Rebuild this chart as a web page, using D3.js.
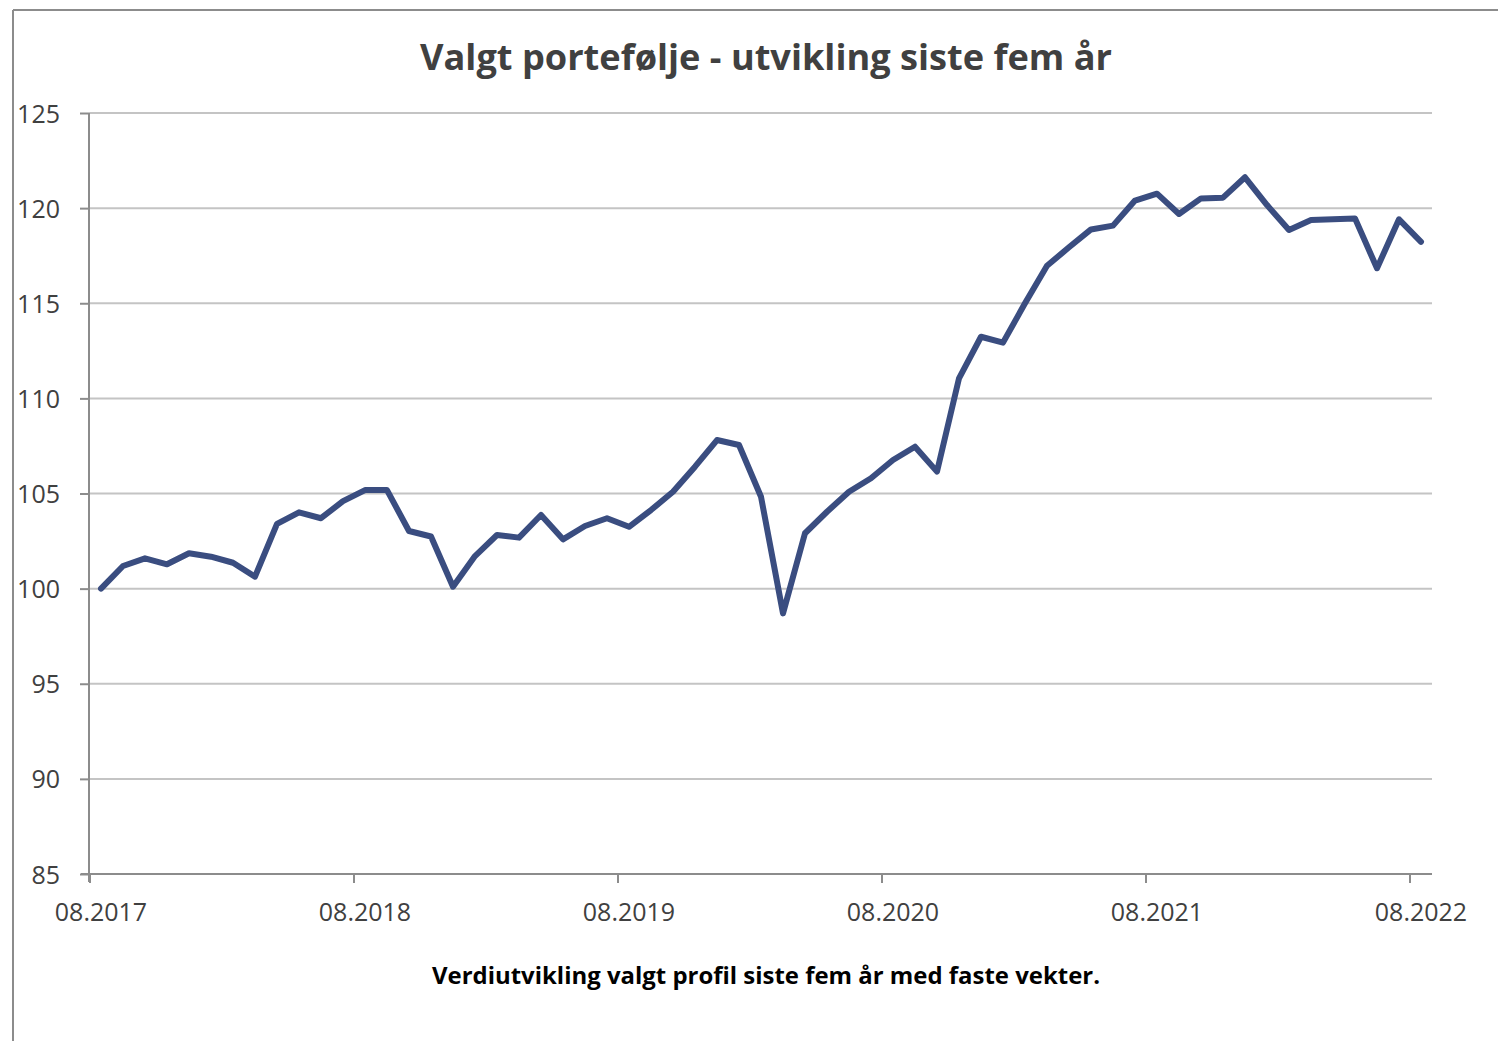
<!DOCTYPE html>
<html>
<head>
<meta charset="utf-8">
<script src="https://cdn.jsdelivr.net/npm/d3@7"></script>
<style>
  html, body { margin: 0; padding: 0; background: #fff; }
  svg { display: block; }
</style>
</head>
<body>
<svg id="chart" width="1498" height="1041"></svg>
<script>
const titleText = "Valgt portefølje - utvikling siste fem år";
const captionText = "Verdiutvikling valgt profil siste fem år med faste vekter.";

const months = [
  "08.2017","09.2017","10.2017","11.2017","12.2017","01.2018","02.2018","03.2018","04.2018","05.2018","06.2018","07.2018",
  "08.2018","09.2018","10.2018","11.2018","12.2018","01.2019","02.2019","03.2019","04.2019","05.2019","06.2019","07.2019",
  "08.2019","09.2019","10.2019","11.2019","12.2019","01.2020","02.2020","03.2020","04.2020","05.2020","06.2020","07.2020",
  "08.2020","09.2020","10.2020","11.2020","12.2020","01.2021","02.2021","03.2021","04.2021","05.2021","06.2021","07.2021",
  "08.2021","09.2021","10.2021","11.2021","12.2021","01.2022","02.2022","03.2022","04.2022","05.2022","06.2022","07.2022",
  "08.2022"
];

const values = [
  100.00, 101.19, 101.59, 101.28, 101.86, 101.68, 101.36, 100.63, 103.40, 104.01, 103.70, 104.60,
  105.18, 105.18, 103.03, 102.74, 100.10, 101.71, 102.82, 102.68, 103.87, 102.59, 103.29, 103.70,
  103.25, 104.13, 105.09, 106.41, 107.81, 107.55, 104.83, 98.70, 102.91, 104.04, 105.09, 105.80,
  106.76, 107.46, 106.15, 111.05, 113.24, 112.93, 115.00, 116.97, 117.94, 118.88, 119.08, 120.40,
  120.76, 119.69, 120.51, 120.55, 121.62, 120.16, 118.85, 119.37, 119.41, 119.46, 116.84, 119.41,
  118.23
];

const xTickLabels = ["08.2017","08.2018","08.2019","08.2020","08.2021","08.2022"];
const yTicks = [85, 90, 95, 100, 105, 110, 115, 120, 125];

const svg = d3.select("#chart");
const plot = { left: 90, right: 1432, top: 113, bottom: 874 };

// frame (top and left border)
svg.append("line").attr("x1", 13).attr("x2", 1498).attr("y1", 10).attr("y2", 10)
  .attr("stroke", "#8c8c8c").attr("stroke-width", 2);
svg.append("line").attr("x1", 13).attr("x2", 13).attr("y1", 10).attr("y2", 1041)
  .attr("stroke", "#8c8c8c").attr("stroke-width", 2);

const x = d3.scalePoint().domain(months).range([plot.left, plot.right]).padding(0.5);
const y = d3.scaleLinear().domain([85, 125]).range([plot.bottom, plot.top]);
const step = x.step();

// gridlines
svg.append("g").selectAll("line").data(yTicks.filter(d => d !== 85)).join("line")
  .attr("x1", plot.left - 1).attr("x2", plot.right)
  .attr("y1", d => y(d)).attr("y2", d => y(d))
  .attr("stroke", "#c4c4c4").attr("stroke-width", 2);

// y axis
const yAxis = d3.axisLeft(y).tickValues(yTicks).tickSize(9).tickPadding(20).tickFormat(d3.format("d"));
const gy = svg.append("g").attr("transform", `translate(${plot.left - 1},0)`).call(yAxis);
gy.select(".domain").attr("stroke", "#8c8c8c").attr("stroke-width", 2)
  .attr("d", `M0,${plot.top}V${plot.bottom + 8}`);
gy.selectAll(".tick line").attr("stroke", "#8c8c8c").attr("stroke-width", 2);
gy.selectAll(".tick text")
  .attr("font-family", "'Open Sans', sans-serif").attr("font-size", 25)
  .attr("fill", "#404040").attr("dy", "0.36em");

// x axis (ticks at category boundaries, labels centered on categories)
const tickIdx = xTickLabels.map(l => months.indexOf(l));
const gx = svg.append("g");
gx.append("line").attr("x1", plot.left - 9).attr("x2", plot.right)
  .attr("y1", plot.bottom).attr("y2", plot.bottom)
  .attr("stroke", "#8c8c8c").attr("stroke-width", 2);
gx.selectAll("line.tk").data(tickIdx).join("line").attr("class", "tk")
  .attr("x1", i => x(months[i]) - step / 2).attr("x2", i => x(months[i]) - step / 2)
  .attr("y1", plot.bottom).attr("y2", plot.bottom + 9)
  .attr("stroke", "#8c8c8c").attr("stroke-width", 2);
gx.selectAll("text").data(xTickLabels).join("text")
  .attr("x", d => x(d)).attr("y", 921)
  .attr("text-anchor", "middle")
  .attr("font-family", "'Open Sans', sans-serif").attr("font-size", 25)
  .attr("fill", "#404040").text(d => d);

// line
const line = d3.line().x((d, i) => x(months[i])).y(d => y(d));
svg.append("path").datum(values).attr("d", line)
  .attr("fill", "none").attr("stroke", "#3a4d80").attr("stroke-width", 6)
  .attr("stroke-linejoin", "round").attr("stroke-linecap", "round");

// title
svg.append("text").attr("x", 766).attr("y", 70).attr("text-anchor", "middle")
  .attr("font-family", "'Open Sans', sans-serif").attr("font-weight", "bold")
  .attr("font-size", 36).attr("fill", "#404040")
  .attr("textLength", 692).attr("lengthAdjust", "spacingAndGlyphs")
  .text(titleText);

// caption
svg.append("text").attr("x", 766).attr("y", 984).attr("text-anchor", "middle")
  .attr("font-family", "'Open Sans', sans-serif").attr("font-weight", "bold")
  .attr("font-size", 23).attr("fill", "#000")
  .attr("textLength", 668).attr("lengthAdjust", "spacingAndGlyphs")
  .text(captionText);
</script>
</body>
</html>
